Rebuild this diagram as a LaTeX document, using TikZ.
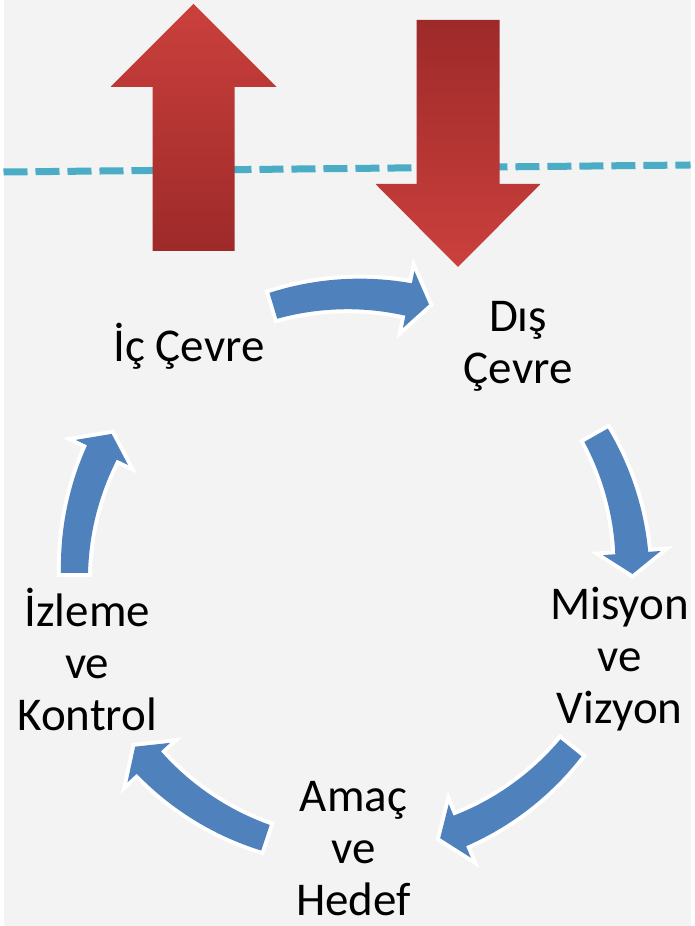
\documentclass[tikz,border=0pt]{standalone}
\usepackage{fontspec}
\setmainfont{Carlito}
\usetikzlibrary{calc}

\definecolor{cycleblue}{HTML}{4F81BD}
\definecolor{lineaqua}{HTML}{4BACC6}
\definecolor{redlight}{HTML}{CB403D}
\definecolor{reddark}{HTML}{9D2A29}
\definecolor{paper}{HTML}{F3F3F3}

\begin{document}
\begin{tikzpicture}[x=1pt, y=1pt,
	cycletext/.style={align=center, inner sep=0pt,
		font=\fontsize{47}{52}\selectfont},
	cyclearrow/.style={fill=cycleblue,
		preaction={draw=white, line width=8}}]

\fill[paper] (0, 0) rectangle (687, 926);

% boundary between inside and outside
\draw[lineaqua, line width=7, dash pattern=on 24 off 8] (0, 754) -- (687, 761);

% up arrow
\shade[top color=redlight, bottom color=reddark]
	(190, 922) --
	(273, 839) --
	(231, 839) --
	(231, 675) --
	(149, 675) --
	(149, 839) --
	(107, 839) -- cycle;

% down arrow
\shade[top color=reddark, bottom color=redlight]
	(413, 906) --
	(496, 906) --
	(496, 742) --
	(537, 742) --
	(454.5, 659) --
	(372, 742) --
	(413, 742) -- cycle;

\coordinate (hub) at (350, 353);

% curved arrows round the hub, from tail angle to tip angle
\begin{scope}[shift={(hub)}]
\foreach \a/\b in {106.7/74.3, 29.6/-0.2, -38.8/-71.9, -108.4/-141.5, 180/150.1} {
	\pgfmathsetmacro{\c}{\b + 4.3}
	\fill[cyclearrow]
		plot[domain=\a:\c, samples=20] (\x:{292.5 + 3*(\a-\x)/(\a-\c)}) --
		(\c:308) --
		(\b:279) --
		(\c:250) --
		plot[domain=\c:\a, samples=20] (\x:{265.5 - 3*(\a-\x)/(\a-\c)}) -- cycle;
}
\end{scope}

\node[cycletext] (ic) at ($(hub) + (126:280)$) {İç Çevre};
\node[cycletext] (dis) at ($(hub) + (54:280)$) {Dış\\Çevre};
\node[cycletext] (misyon) at ($(hub) + (-18:280)$) {Misyon\\ve\\Vizyon};
\node[cycletext] (amac) at ($(hub) + (-90:276)$) {Amaç\\ve\\Hedef};
\node[cycletext] (izleme) at ($(hub) + (198:280)$) {İzleme\\ve\\Kontrol};

\end{tikzpicture}
\end{document}
